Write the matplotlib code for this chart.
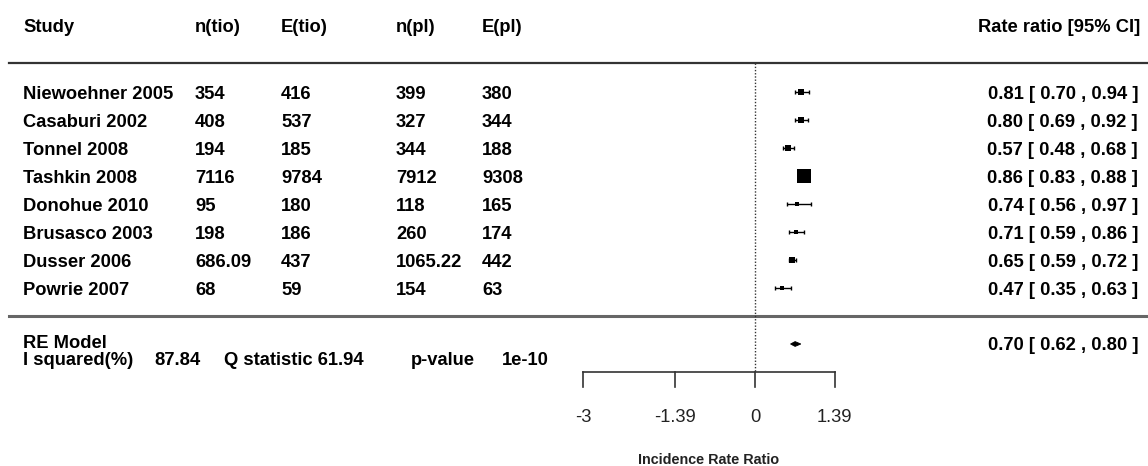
import numpy as np
import matplotlib
matplotlib.use("Agg")
import matplotlib.pyplot as plt
from matplotlib import transforms

# ---- data ----
studies = ["Niewoehner 2005", "Casaburi 2002", "Tonnel 2008", "Tashkin 2008",
           "Donohue 2010", "Brusasco 2003", "Dusser 2006", "Powrie 2007"]
n_tio = [354, 408, 194, 7116, 95, 198, 686.09, 68]
e_tio = [416, 537, 185, 9784, 180, 186, 437, 59]
n_pl = [399, 327, 344, 7912, 118, 260, 1065.22, 154]
e_pl = [380, 344, 188, 9308, 165, 174, 442, 63]
rr = [0.81, 0.80, 0.57, 0.86, 0.74, 0.71, 0.65, 0.47]
rr_lb = [0.70, 0.69, 0.48, 0.83, 0.56, 0.59, 0.59, 0.35]
rr_ub = [0.94, 0.92, 0.68, 0.88, 0.97, 0.86, 0.72, 0.63]
re_est, re_lb, re_ub = 0.70, 0.62, 0.80
i_squared = 87.84
q_stat = 61.94
p_value = "1e-10"
x_ticks = [-3, -1.39, 0, 1.39]
x_tick_labels = ["-3", "-1.39", "0", "1.39"]
headers = ["Study", "n(tio)", "E(tio)", "n(pl)", "E(pl)"]

# ---- layout ----
W, H = 1148, 466
SX = 57.3          # pixels per x unit
X0 = 755           # pixel column of x = 0
ROW0, ROWH = 92, 28
FS = 13.2
CAP = 0.716 * FS * 100 / 72   # cap height in pixels


def row(ypix):
    return (ypix - ROW0) / ROWH + 1


def base(ypix):
    # baseline row that puts the capitals centred on ypix
    return row(ypix + CAP / 2)


plt.rcParams["font.family"] = ["Liberation Sans", "DejaVu Sans"]
fig = plt.figure(figsize=(W / 100, H / 100), dpi=100)
ax = fig.add_axes([0, 0, 1, 1])
ax.set_xlim((0 - X0) / SX, (W - X0) / SX)
ax.set_ylim(row(H), row(0))
ax.axis("off")

fx = transforms.blended_transform_factory(fig.transFigure, ax.transData)
ys = np.arange(1, len(studies) + 1)
bold = dict(fontsize=FS, fontweight="bold", va="baseline")

# header
col_px = [23, 195, 281, 396, 482]
for px, h in zip(col_px, headers):
    ax.text(px / W, base(25), h, transform=fx, ha="left", **bold)
ax.text(1140 / W, base(25), "Rate ratio [95% CI]", transform=fx, ha="right",
        **bold)

# separators
ax.axhline(row(63), xmin=9 / W, xmax=1, color="#333333", lw=1.6)
ax.axhline(row(316), xmin=9 / W, xmax=1, color="#666666", lw=2.2)

# reference line
ax.plot([0, 0], [row(63), row(372)], color="#333333", lw=1.0,
        linestyle=(0, (1, 1.3)))

# study rows
fmt = lambda v: f"{v:g}"
for y, s, a, b, c, d in zip(ys, studies, n_tio, e_tio, n_pl, e_pl):
    yb = y + CAP / 2 / ROWH
    for px, t in zip(col_px, [s, fmt(a), fmt(b), fmt(c), fmt(d)]):
        ax.text(px / W, yb, t, transform=fx, ha="left", **bold)

for y, m, lo, hi in zip(ys, rr, rr_lb, rr_ub):
    ax.text(1138 / W, y + CAP / 2 / ROWH, f"{m:.2f} [ {lo:.2f} , {hi:.2f} ]",
            transform=fx, ha="right", **bold)

# square sizes from inverse standard errors
se = (np.log(rr_ub) - np.log(rr_lb)) / (2 * 1.96)
wi = 1 / se
psize = (wi - wi.min()) / (wi.max() - wi.min()) + 0.5
rr_a = np.array(rr)
ax.errorbar(rr_a, ys, xerr=[rr_a - np.array(rr_lb), np.array(rr_ub) - rr_a],
            fmt="none", ecolor="black", elinewidth=1.0, capsize=1.7,
            capthick=1.0)
for y, m, p in zip(ys, rr, psize):
    ax.plot(m, y, marker="s", color="black", markersize=p * 8.8 * 0.72,
            markeredgewidth=0)

# summary row
y_re = row(344)
ax.text(23 / W, base(341), "RE Model", transform=fx, ha="left", **bold)
for px, t in [(23, "I squared(%)"), (154, f"{i_squared:.2f}"),
              (224, f"Q statistic {q_stat:.2f}"), (411, "p-value"),
              (502, p_value)]:
    ax.text(px / W, base(358), t, transform=fx, ha="left", **bold)
ax.text(1138 / W, base(343), f"{re_est:.2f} [ {re_lb:.2f} , {re_ub:.2f} ]",
        transform=fx, ha="right", **bold)
dh = 2.4 / ROWH
ax.fill([re_lb, re_est, re_ub, re_est], [y_re, y_re - dh, y_re, y_re + dh],
        color="black", lw=0.6, ec="black")

# x axis
y_ax = row(372)
ax.plot([min(x_ticks), max(x_ticks)], [y_ax, y_ax], color="#333333", lw=1.2)
for t, lab in zip(x_ticks, x_tick_labels):
    ax.plot([t, t], [y_ax, row(387)], color="#333333", lw=1.2)
    ax.text(t, row(417), lab, ha="center", va="center", fontsize=13.2,
            color="#222222")
ax.text((min(x_ticks) + max(x_ticks)) / 2, row(460), "Incidence Rate Ratio",
        ha="center", va="center", fontsize=10.4, fontweight="bold",
        color="#222222")

fig.savefig("out.png", dpi=100)
